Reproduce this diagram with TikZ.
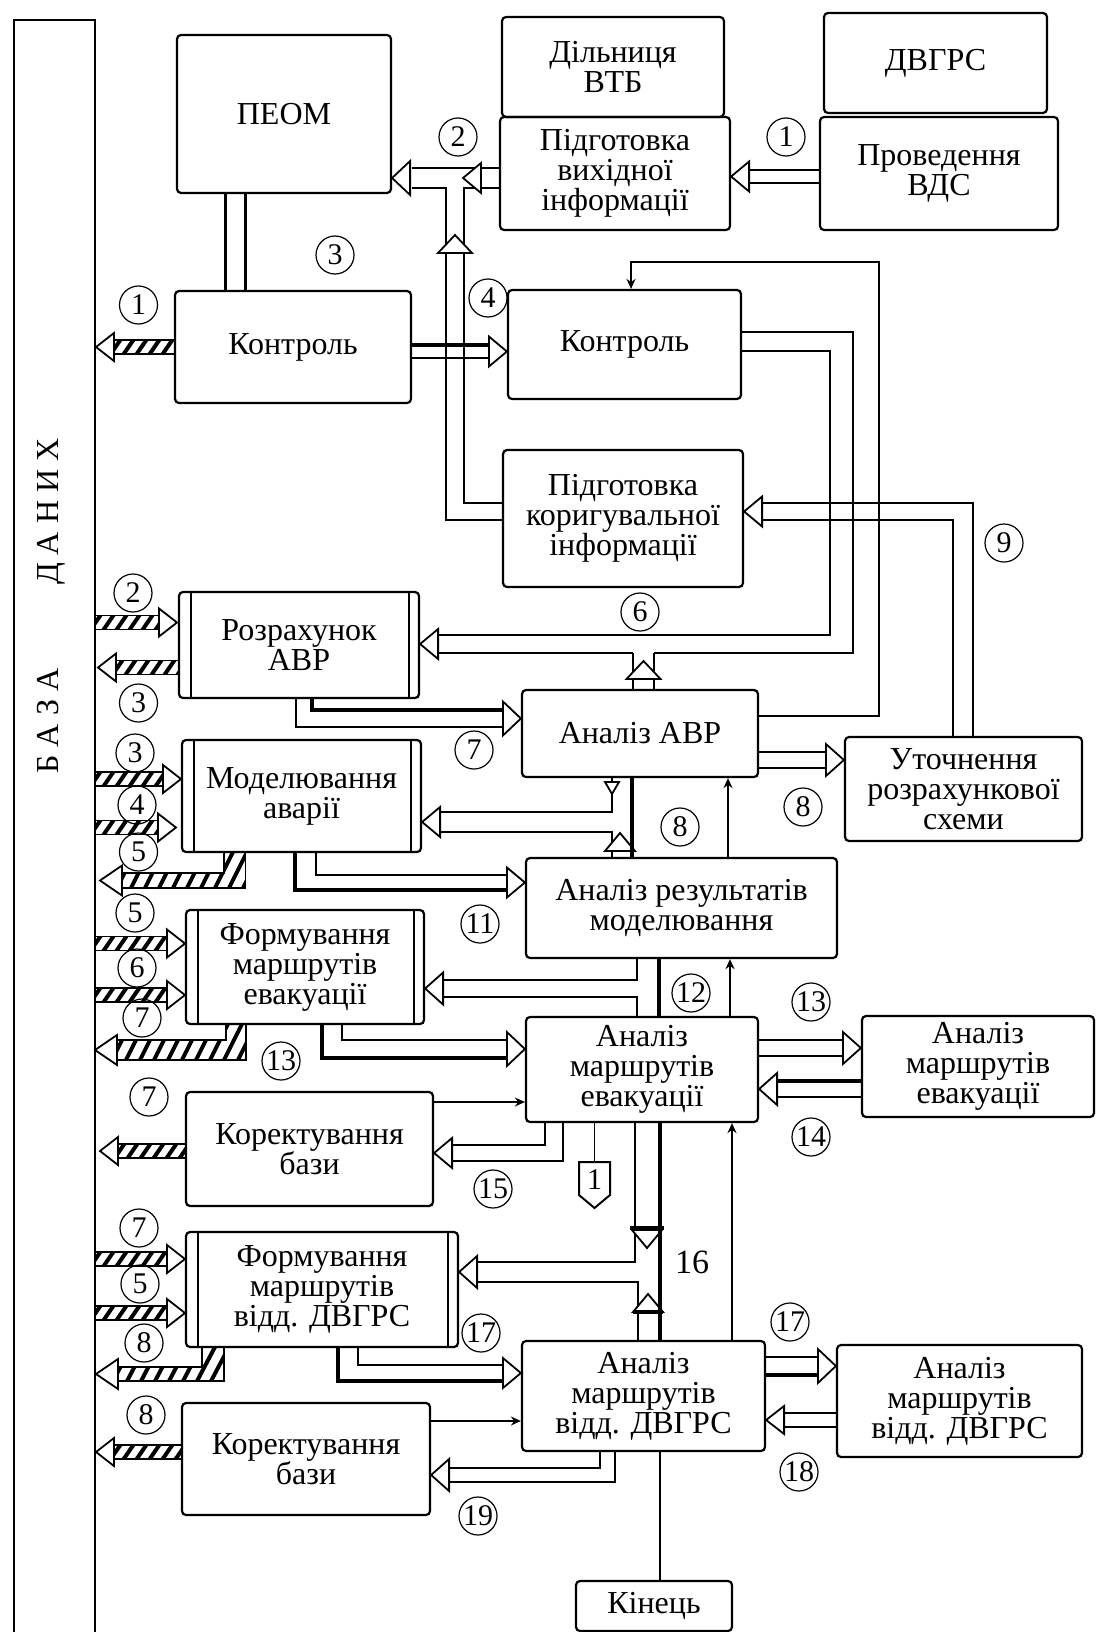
\documentclass[tikz,border=0pt]{standalone}
\usepackage{fontspec}
\setmainfont{Liberation Serif}
\usetikzlibrary{arrows.meta,calc}

\tikzset{
  box/.style 2 args={draw, line width=1.1pt, rounded corners=2pt, inner sep=0pt, align=center,
    minimum width=#1*0.5pt, minimum height=#2*0.5pt},
  num/.style={circle, draw, line width=0.6pt, inner sep=0pt, minimum size=19pt, font=\fontsize{15}{15}\selectfont},
  pipe/.style={line width=0.9pt},
  fatpipe/.style={line width=1.9pt},
  ohead/.style={draw, fill=white, line width=0.9pt, line join=miter},
  hatchline/.style={line width=2pt},
  sig/.style={line width=0.9pt, -{Stealth[length=5pt,width=4.5pt]}},
}

\newcommand\headL[2]{\draw[ohead] #1 -- ++(18,-#2) -- ++(0,2*#2) -- cycle;}
\newcommand\headR[2]{\draw[ohead] #1 -- ++(-18,-#2) -- ++(0,2*#2) -- cycle;}
\newcommand\headU[2]{\draw[ohead] #1 -- ++(-#2,18) -- ++(2*#2,0) -- cycle;}
\newcommand\headD[2]{\draw[ohead] #1 -- ++(-#2,-18) -- ++(2*#2,0) -- cycle;}
\newcommand\sidebars[1]{\draw[line width=1.1pt] ($(#1.north west)+(13,0)$) -- ($(#1.south west)+(13,0)$)
  ($(#1.north east)+(-11,0)$) -- ($(#1.south east)+(-11,0)$);}

% tip x, tail x, y
\newcommand\hatchleft[3]{%
  \pgfmathsetmacro\hatchbase{#1+18}
  \begin{scope}
    \clip (\hatchbase,#3-7) rectangle (#2,#3+7);
    \foreach \s in {0,13,...,260}
      \draw[hatchline] ({\hatchbase+\s-4},#3+8) -- ({\hatchbase+\s+7},#3-8);
  \end{scope}
  \draw[pipe] (\hatchbase,#3-7) -- (#2,#3-7) (\hatchbase,#3+7) -- (#2,#3+7);
  \draw[ohead] (#1,#3) -- (\hatchbase,#3-14) -- (\hatchbase,#3+14) -- cycle;
}
% tail x, tip x, y
\newcommand\hatchright[3]{%
  \pgfmathsetmacro\hatchbase{#2-18}
  \begin{scope}
    \clip (#1,#3-7) rectangle (\hatchbase,#3+7);
    \foreach \s in {0,13,...,260}
      \draw[hatchline] ({#1+\s-4},#3+8) -- ({#1+\s+7},#3-8);
  \end{scope}
  \draw[pipe] (#1,#3-7) -- (\hatchbase,#3-7) (#1,#3+7) -- (\hatchbase,#3+7);
  \draw[ohead] (#2,#3) -- (\hatchbase,#3-14) -- (\hatchbase,#3+14) -- cycle;
}
% x left, x right, y top, y bar top, y bar bottom, tip x
\newcommand\hatchcorner[6]{%
  \pgfmathsetmacro\hatchbase{#6+22}
  \pgfmathsetmacro\hatchmid{(#4+#5)/2}
  \begin{scope}
    \clip (#2,#3) -- (#2,#5) -- (\hatchbase,#5) -- (\hatchbase,#4) -- (#1,#4) -- (#1,#3) -- cycle;
    \foreach \s in {0,14,...,260}
      \draw[hatchline] ({\hatchbase+\s-6},#5+2) -- ({\hatchbase+\s+14},#3-2);
  \end{scope}
  \draw[pipe] (#1,#3) -- (#1,#4) -- (\hatchbase,#4) (\hatchbase,#5) -- (#2,#5) -- (#2,#3);
  \draw[ohead] (#6,\hatchmid) -- (\hatchbase,\hatchmid-15) -- (\hatchbase,\hatchmid+15) -- cycle;
}

\begin{document}
\begin{tikzpicture}[x=0.5pt, y=-0.5pt, font=\fontsize{16}{15}\selectfont]
\useasboundingbox (0,0) rectangle (1096,1632);

\node[draw, line width=1.1pt, inner sep=0pt, minimum width=81*0.5pt, minimum height=1640*0.5pt,
  anchor=north west] (bus) at (13,19) {};
\node[rotate=90, font=\fontsize{16}{16}\selectfont] (busname) at (51,606) {Б А З А\hspace{42pt}Д А Н И Х};

\node[box={214}{158}] (peom) at (284,114) {ПЕОМ};
\node[box={222}{100}] (dil) at (613,67) {Дільниця\\ВТБ};
\node[box={230}{113}] (vyh) at (615,173.5) {Підготовка\\вихідної\\інформації};
\node[box={223}{100}] (dvgrs) at (935.5,63) {ДВГРС};
\node[box={238}{113}] (vds) at (939,173.5) {Проведення\\ВДС};
\node[box={236}{112}] (ctrlA) at (293,347) {Контроль};
\node[box={233}{109}] (ctrlB) at (624.5,344.5) {Контроль};
\node[box={240}{137}] (kor) at (623,518.5) {Підготовка\\коригувальної\\інформації};
\node[box={240}{106}] (rozr) at (299,645) {Розрахунок\\АВР};
\node[box={236}{87}] (avr) at (640,733.5) {Аналіз АВР};
\node[box={237}{104}] (utoch) at (963.5,789) {Уточнення\\розрахункової\\схеми};
\node[box={239}{112}] (model) at (301.5,796) {Моделювання\\аварії};
\node[box={311}{100}] (rezm) at (681.5,908) {Аналіз результатів\\моделювання};
\node[box={238}{114}] (formE) at (305,967) {Формування\\маршрутів\\евакуації};
\node[box={232}{105}] (amE) at (642,1069.5) {Аналіз\\маршрутів\\евакуації};
\node[box={232}{101}] (amE2) at (978,1066.5) {Аналіз\\маршрутів\\евакуації};
\node[box={247}{114}] (korA) at (309.5,1149) {Коректування\\бази};
\node[box={272}{115}] (formV) at (322,1289.5) {Формування\\маршрутів\\відд. ДВГРС};
\node[box={243}{110}] (amV) at (643.5,1396) {Аналіз\\маршрутів\\відд. ДВГРС};
\node[box={245}{112}] (amV2) at (959.5,1401) {Аналіз\\маршрутів\\відд. ДВГРС};
\node[box={248}{112}] (korB) at (306,1459) {Коректування\\бази};
\node[box={156}{50}] (kin) at (654,1606) {Кінець};
\sidebars{rozr}
\sidebars{model}
\sidebars{formE}
\sidebars{formV}

\node[num] (c1a) at (138.5,305) {1};
\node[num] (c2a) at (458,137) {2};
\node[num] (c1b) at (786,137) {1};
\node[num] (c3a) at (335,255) {3};
\node[num] (c4a) at (488,298) {4};
\node[num] (c2b) at (133,593) {2};
\node[num] (c3b) at (138.5,703) {3};
\node[num] (c6a) at (640,612) {6};
\node[num] (c9a) at (1004,543) {9};
\node[num] (c7a) at (474,750) {7};
\node[num] (c3c) at (135,753) {3};
\node[num] (c4b) at (137,805) {4};
\node[num] (c5a) at (138.5,852) {5};
\node[num] (c8a) at (803,807) {8};
\node[num] (c8b) at (680,827) {8};
\node[num] (c11) at (480,924) {11};
\node[num] (c5b) at (135,913) {5};
\node[num] (c6b) at (137,968) {6};
\node[num] (c12) at (691,993) {12};
\node[num] (c13a) at (811,1002) {13};
\node[num] (c7b) at (142,1018) {7};
\node[num] (c13b) at (281,1061) {13};
\node[num] (c7c) at (149,1097) {7};
\node[num] (c14) at (811,1137) {14};
\node[num] (c15) at (493,1189) {15};
\node[num] (c7d) at (139,1228) {7};
\node[num] (c5c) at (140,1284) {5};
\node[num] (c17a) at (481,1333) {17};
\node[num] (c17b) at (790,1322) {17};
\node[num] (c8c) at (144,1343) {8};
\node[num] (c8d) at (146,1415) {8};
\node[num] (c18) at (799,1472) {18};
\node[num] (c19) at (478,1516) {19};
\node[font=\fontsize{17}{17}\selectfont] (n16) at (692,1262) {16};

% exchange with the data base
\hatchleft{96}{175}{347}
\hatchright{94}{177}{622.5}
\hatchleft{98}{179}{667.5}
\hatchright{94}{181}{779}
\hatchright{94}{176}{827.5}
\hatchcorner{224}{245.5}{852}{873}{888}{100}
\hatchright{94}{185}{943.5}
\hatchright{94}{185}{995}
\hatchcorner{226}{246}{1024}{1040}{1060}{95}
\hatchleft{100}{186}{1151}
\hatchright{94}{185}{1259}
\hatchright{94}{185}{1313}
\hatchcorner{202}{224}{1347}{1367}{1381}{96}
\hatchleft{96}{182}{1452}

\draw[line width=1.1pt] (225.5,0 |- peom.south) -- (225.5,0 |- ctrlA.north)
            (245.5,0 |- peom.south) -- (245.5,0 |- ctrlA.north);

\draw[pipe] (vyh.west |- 0,168) -- (412,168);
\draw[pipe] (vyh.west |- 0,188) -- (464,188) -- (464,503) -- (kor.west |- 0,503);
\draw[pipe] (412,188) -- (446,188) -- (446,520) -- (kor.west |- 0,520);
\headL{(peom.east |- 0,178)}{17}
\headL{(463,178)}{15}
\headU{(455,235)}{17}

\draw[pipe] (vds.west |- 0,170) -- (748,170) (vds.west |- 0,183) -- (748,183);
\headL{(vyh.east |- 0,176.5)}{15}

\draw[fatpipe] (ctrlA.east |- 0,345) -- (490,345);
\draw[pipe] (ctrlA.east |- 0,358) -- (490,358);
\headR{(ctrlB.west |- 0,351.5)}{15}

\draw[sig] (avr.east |- 0,716) -- (879,716) -- (879,262) -- (631,262) -- (631,0 |- ctrlB.north);

\draw[pipe] (ctrlB.east |- 0,332) -- (853,332) -- (853,653) -- (654,653) (633,653) -- (439,653);
\draw[pipe] (ctrlB.east |- 0,351) -- (830,351) -- (830,635) -- (439,635);
\draw[pipe] (633,0 |- avr.north) -- (633,653) (654,0 |- avr.north) -- (654,653);
\headL{(rozr.east |- 0,644)}{15}
\headU{(643.5,661)}{17}

\draw[pipe] (973,0 |- utoch.north) -- (973,503) -- (761,503);
\draw[pipe] (953,0 |- utoch.north) -- (953,520) -- (761,520);
\headL{(kor.east |- 0,511.5)}{15}

\draw[fatpipe] (312,0 |- rozr.south) -- (312,710) -- (504,710);
\draw[pipe] (296,0 |- rozr.south) -- (296,727) -- (504,727);
\headR{(avr.west |- 0,718.5)}{17}

\draw[pipe] (avr.east |- 0,752) -- (827,752) (avr.east |- 0,768) -- (827,768);
\headR{(utoch.west |- 0,760)}{16}

\draw[pipe] (612,0 |- avr.south) -- (612,812) -- (439,812);
\draw[pipe] (439,832) -- (612,832) -- (612,0 |- rezm.north);
\headL{(model.east |- 0,822)}{15}
\draw[ohead] (612,794) -- ++(-7,-12) -- ++(14,0) -- cycle;
\headU{(620,833)}{15}
\draw[fatpipe] (632,0 |- avr.south) -- (632,0 |- rezm.north);
\draw[sig] (728,0 |- rezm.north) -- (728,0 |- avr.south);

\draw[pipe] (316,0 |- model.south) -- (316,875) -- (508,875);
\draw[fatpipe] (295,0 |- model.south) -- (295,890) -- (508,890);
\headR{(rezm.west |- 0,882.5)}{15}

\draw[pipe] (637,0 |- rezm.south) -- (637,980) -- (442,980);
\draw[pipe] (442,997) -- (637,997) -- (637,0 |- amE.north);
\draw[fatpipe] (659,0 |- rezm.south) -- (659,0 |- amE.north);
\headL{(formE.east |- 0,988.5)}{16}
\draw[sig] (730,0 |- amE.north) -- (730,0 |- rezm.south);

\draw[pipe] (342,0 |- formE.south) -- (342,1040) -- (508,1040);
\draw[fatpipe] (322,0 |- formE.south) -- (322,1058) -- (508,1058);
\headR{(amE.west |- 0,1049)}{17}

\draw[pipe] (amE.east |- 0,1040) -- (844,1040) (amE.east |- 0,1056) -- (844,1056);
\headR{(amE2.west |- 0,1048)}{16}
\draw[fatpipe] (amE2.west |- 0,1081) -- (776,1081);
\draw[pipe] (amE2.west |- 0,1097) -- (776,1097);
\headL{(amE.east |- 0,1089)}{16}

\draw[sig] (korA.east |- 0,1102) -- (amE.west |- 0,1102);

\draw[pipe] (545,0 |- amE.south) -- (545,1145) -- (451,1145);
\draw[pipe] (563,0 |- amE.south) -- (563,1161) -- (451,1161);
\headL{(korA.east |- 0,1153)}{15}

\node[font=\fontsize{15}{15}\selectfont] (page1) at (594.5,1180) {1};
\draw[pipe] (594.5,0 |- amE.south) -- (594.5,1162);
\draw[line width=1pt] (579,1162) -- (610,1162) -- (610,1195) -- (594.5,1208) -- (579,1195) -- cycle;

\draw[pipe] (635,0 |- amE.south) -- (635,1262) -- (476,1262);
\draw[pipe] (476,1282) -- (638,1282) -- (638,0 |- amV.north);
\headL{(formV.east |- 0,1272)}{16}
\headD{(647,1248)}{15}
\headU{(648,1294)}{15}
\draw[fatpipe] (630,1228) -- (664,1228) (633,1312) -- (663,1312);
\draw[fatpipe] (660,0 |- amE.south) -- (660,0 |- amV.north);
\draw[sig] (732,0 |- amV.north) -- (732,0 |- amE.south);

\draw[pipe] (amV.east |- 0,1357) -- (819,1357);
\draw[fatpipe] (amV.east |- 0,1375) -- (819,1375);
\headR{(amV2.west |- 0,1366)}{17}
\draw[pipe] (amV2.west |- 0,1413) -- (783,1413) (amV2.west |- 0,1427) -- (783,1427);
\headL{(amV.east |- 0,1420)}{14}

\draw[pipe] (358,0 |- formV.south) -- (358,1365) -- (504,1365);
\draw[fatpipe] (338,0 |- formV.south) -- (338,1381) -- (504,1381);
\headR{(amV.west |- 0,1373)}{15}

\draw[sig] (korB.east |- 0,1421) -- (amV.west |- 0,1421);

\draw[pipe] (600,0 |- amV.south) -- (600,1468) -- (448,1468);
\draw[pipe] (615,0 |- amV.south) -- (615,1482) -- (448,1482);
\headL{(korB.east |- 0,1475)}{16}

\draw[pipe] (660,0 |- amV.south) -- (660,0 |- kin.north);
\end{tikzpicture}
\end{document}
